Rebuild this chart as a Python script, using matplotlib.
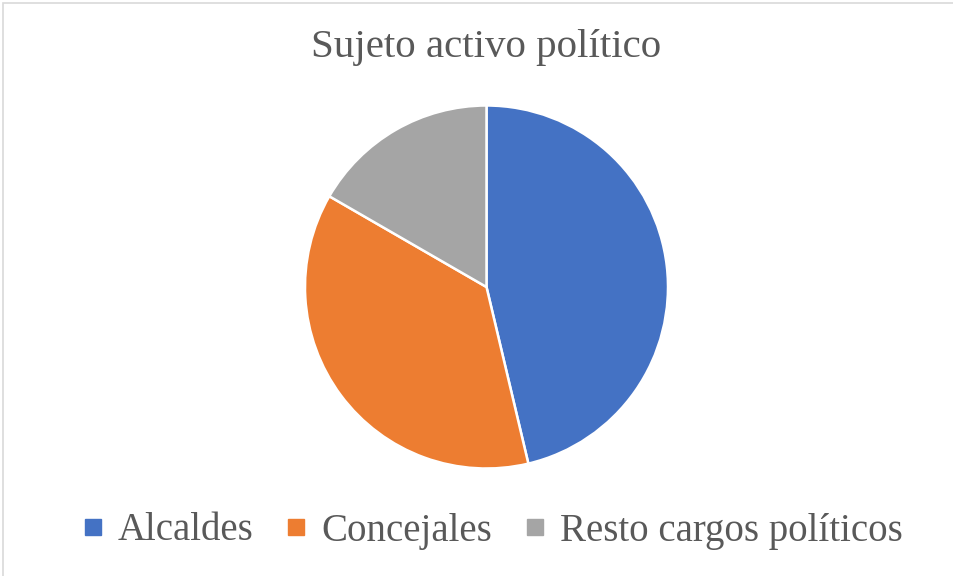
import matplotlib.pyplot as plt
from matplotlib.lines import Line2D
from matplotlib.patches import Rectangle

categorias = ["Alcaldes", "Concejales", "Resto cargos políticos"]
valores = [25, 20, 9]
colores = ["#4472C4", "#ED7D31", "#A5A5A5"]

plt.rcParams['font.family'] = ['Liberation Serif', 'DejaVu Serif']

W, H = 954, 576
fig = plt.figure(figsize=(W / 100, H / 100), dpi=100)

# borde gris claro del gráfico
fig.patches.append(Rectangle((3 / W, -0.1), 1.2, 1 - 3 / H + 0.1, transform=fig.transFigure,
                             fill=False, edgecolor="#D9D9D9", linewidth=1.2))

cx, cy, r = 486.5, 287, 181.5
ax = fig.add_axes([(cx - r) / W, 1 - (cy + r) / H, 2 * r / W, 2 * r / H])
ax.pie(valores, colors=colores, startangle=90, counterclock=False, radius=1,
       wedgeprops=dict(edgecolor="white", linewidth=1.8))
ax.set_xlim(-1, 1)
ax.set_ylim(-1, 1)
ax.set_aspect("equal")
ax.axis("off")

fig.text(486 / W, 1 - 48 / H, "Sujeto activo político", ha="center", va="center",
         fontsize=29.5, color="#595959")

handles = [Line2D([], [], marker="s", linestyle="", markersize=11, markerfacecolor=c,
                  markeredgecolor=c) for c in colores]
fig.legend(handles, categorias, loc="center", bbox_to_anchor=(492 / W, 1 - 531 / H), ncol=3,
           frameon=False, fontsize=28, labelcolor="#595959", handlelength=0.6,
           handletextpad=0.35, columnspacing=0.8)

fig.savefig("out.png", dpi=100)
